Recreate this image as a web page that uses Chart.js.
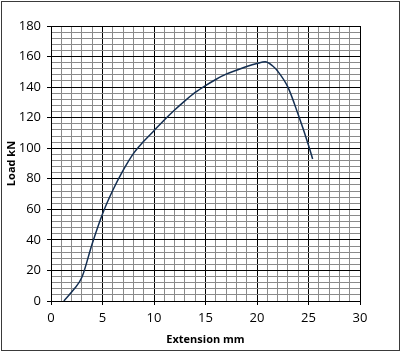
<!DOCTYPE html>
<html>
<head>
<meta charset="utf-8">
<script src="https://cdn.jsdelivr.net/npm/chart.js@4"></script>
<style>
  html, body { margin: 0; padding: 0; background: #fff; }
  #wrap { width: 402px; height: 353px; }
</style>
</head>
<body>
<div id="wrap"><canvas id="loadChart" width="402" height="353"></canvas></div>
<script>
// extension (mm) vs load (kN)
const extension = [1.25, 2.2, 3, 4, 5, 6, 7, 8, 9, 10, 11, 12, 13, 14, 15, 16, 17, 18, 19, 20, 20.8, 21.5, 22, 23, 24, 25, 25.4];
const load = [0, 7.5, 15.5, 37.5, 57, 72.5, 85.5, 96.5, 104.5, 111.5, 118.5, 125, 131, 136.5, 141, 145, 148.5, 151, 153.5, 155.5, 156.6, 154, 150.5, 140, 122, 102, 93];

const xTitle = 'Extension mm';
const yTitle = 'Load kN';

const points = extension.map((x, i) => ({ x: x, y: load[i] }));

// outer frame round the whole picture
const framePlugin = {
  id: 'frame',
  afterDraw(chart) {
    const c = chart.ctx;
    c.save();
    c.strokeStyle = '#3a3a3a';
    c.lineWidth = 1;
    c.strokeRect(1.5, 1.5, 398, 349);
    c.restore();
  }
};

const tickFont = { family: 'Open Sans', size: 13 };
const titleFont = { family: 'Open Sans', size: 11, weight: 'bold' };

new Chart(document.getElementById('loadChart'), {
  type: 'scatter',
  data: {
    datasets: [{
      data: points,
      showLine: true,
      borderColor: '#142f52',
      borderWidth: 1.5,
      pointRadius: 0,
      cubicInterpolationMode: 'monotone'
    }]
  },
  plugins: [framePlugin],
  options: {
    responsive: false,
    animation: false,
    layout: { padding: { left: 4, right: 42, top: 26, bottom: 6 } },
    plugins: { legend: { display: false }, tooltip: { enabled: false } },
    scales: {
      x: {
        type: 'linear',
        min: 0,
        max: 30,
        afterFit: s => { s.height = 46; },
        border: { color: '#000', width: 1 },
        grid: {
          color: ctx => (ctx.tick && ctx.tick.value % 5 === 0) ? '#000' : '#8a8a8a',
          tickColor: ctx => (ctx.tick && ctx.tick.value % 5 === 0) ? '#000' : 'rgba(0,0,0,0)',
          tickLength: 4
        },
        ticks: {
          stepSize: 1,
          autoSkip: false,
          maxRotation: 0,
          padding: 5,
          color: '#000',
          font: tickFont,
          callback: v => v % 5 === 0 ? v : ''
        },
        title: {
          display: true,
          text: xTitle,
          color: '#000',
          font: titleFont,
          padding: { top: 0, bottom: 1 }
        }
      },
      y: {
        min: 0,
        max: 180,
        afterFit: s => { s.width = 47; },
        border: { color: '#000', width: 1 },
        grid: {
          color: ctx => (ctx.tick && ctx.tick.value % 20 === 0) ? '#000' : '#8a8a8a',
          tickColor: ctx => (ctx.tick && ctx.tick.value % 20 === 0) ? '#000' : 'rgba(0,0,0,0)',
          tickLength: 4
        },
        ticks: {
          stepSize: 4,
          autoSkip: false,
          padding: 6,
          color: '#000',
          font: tickFont,
          callback: v => v % 20 === 0 ? v : ''
        },
        title: {
          display: true,
          text: yTitle,
          color: '#000',
          font: titleFont,
          padding: { top: 1, bottom: 0 }
        }
      }
    }
  }
});
</script>
</body>
</html>
